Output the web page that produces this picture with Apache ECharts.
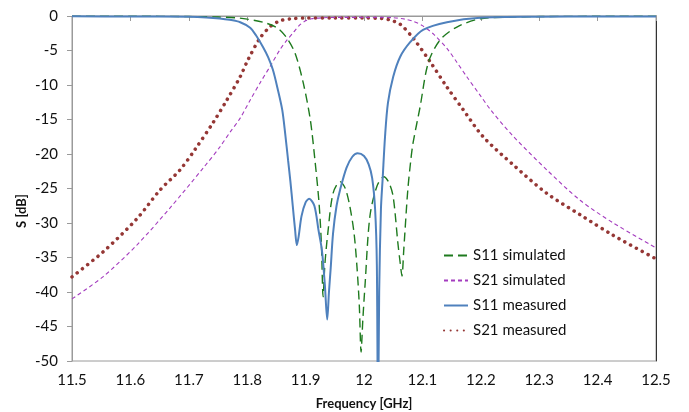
<!DOCTYPE html>
<html>
<head>
<meta charset="utf-8">
<script src="https://cdn.jsdelivr.net/npm/echarts@6/dist/echarts.min.js"></script>
<style>html,body{margin:0;padding:0;background:#fff}#c{width:689px;height:412px}</style>
</head>
<body>
<div id="c"></div>
<script>
var seriesNames = ['S11 simulated', 'S21 simulated', 'S11 measured', 'S21 measured'];
var xTitle = 'Frequency [GHz]';
var yTitle = 'S [dB]';

var s11SimFreq = [11.5, 11.6, 11.7, 11.75, 11.78, 11.8, 11.827, 11.851, 11.868, 11.882, 11.896, 11.908, 11.916, 11.923, 11.927, 11.930, 11.933, 11.938, 11.947, 11.959, 11.968, 11.976, 11.983, 11.988, 11.992, 11.995, 11.998, 12.002, 12.010, 12.022, 12.034, 12.043, 12.050, 12.058, 12.062, 12.065, 12.068, 12.070, 12.075, 12.080, 12.084, 12.096, 12.110, 12.130, 12.159, 12.199, 12.25, 12.3, 12.4, 12.5];
var s11SimVal = [-0.02, -0.03, -0.08, -0.15, -0.25, -0.45, -0.9, -1.7, -3.2, -5.4, -9.7, -15, -20.9, -27.1, -33, -40.7, -36, -31.5, -25.7, -24, -25, -27.7, -31.5, -36.4, -42, -48.7, -44, -38.7, -29.1, -24.7, -23.3, -24.2, -26.2, -32.9, -35.8, -37.7, -34, -31.4, -25.2, -21, -18.4, -13.2, -6.8, -3.5, -1.6, -0.4, -0.15, -0.08, -0.04, -0.02];

var s21SimFreq = [11.5, 11.553, 11.611, 11.668, 11.725, 11.753, 11.771, 11.788, 11.805, 11.822, 11.84, 11.856, 11.868, 11.879, 11.89, 11.9, 11.91, 11.93, 11.96, 12.0, 12.03, 12.05, 12.07, 12.085, 12.1, 12.12, 12.142, 12.159, 12.176, 12.199, 12.216, 12.253, 12.313, 12.370, 12.427, 12.5];
var s21SimVal = [-41, -37.8, -33.2, -27.8, -22, -19, -16.8, -14.8, -12.2, -9.7, -7.2, -4.9, -3.5, -2.4, -1.3, -0.7, -0.4, -0.25, -0.2, -0.2, -0.2, -0.25, -0.45, -0.8, -1.4, -2.7, -4.7, -6.7, -8.8, -11.5, -13.5, -17.2, -22.3, -26.7, -30, -33.6];

var s11MeasFreq = [11.5, 11.6, 11.7, 11.73, 11.753, 11.77, 11.788, 11.805, 11.815, 11.827, 11.836, 11.844, 11.852, 11.860, 11.865, 11.870, 11.874, 11.878, 11.882, 11.885, 11.888, 11.893, 11.900, 11.906, 11.915, 11.922, 11.928, 11.933, 11.937, 11.940, 11.943, 11.947, 11.953, 11.959, 11.970, 11.980, 11.989, 12.000, 12.008, 12.014, 12.019, 12.022, 12.024, 12.026, 12.029, 12.032, 12.036, 12.041, 12.050, 12.062, 12.079, 12.101, 12.142, 12.199, 12.3, 12.4, 12.5];
var s11MeasVal = [-0.05, -0.07, -0.12, -0.2, -0.35, -0.55, -0.9, -1.7, -2.8, -4.5, -6, -7.8, -10.5, -13.6, -17, -20.9, -24, -27.5, -31, -33.2, -32, -29, -27, -26.5, -27.5, -31, -34, -39, -44, -40, -36.5, -31.5, -27.5, -25.2, -22, -20.4, -19.9, -20.3, -21.5, -23.5, -28, -36, -60, -40, -28, -23.5, -17.5, -12.6, -8.8, -5.9, -3.8, -2, -0.9, -0.25, -0.1, -0.08, -0.07];

var s21MeasFreq = [11.5, 11.553, 11.611, 11.651, 11.685, 11.711, 11.742, 11.765, 11.788, 11.801, 11.822, 11.84, 11.856, 11.875, 11.9, 11.95, 12.0, 12.03, 12.045, 12.062, 12.084, 12.113, 12.142, 12.170, 12.204, 12.256, 12.313, 12.370, 12.427, 12.5];
var s21MeasVal = [-37.8, -34.2, -29.4, -25.2, -22.3, -19.3, -15.4, -12.2, -8.8, -6.4, -3.2, -1.5, -0.7, -0.4, -0.3, -0.3, -0.3, -0.35, -0.6, -1.2, -3.2, -6.6, -10.3, -13.6, -17.5, -21.6, -25.7, -28.8, -31.8, -35.2];

function pairs(f, v) { return f.map(function (x, i) { return [x, v[i]]; }); }

var FONT = 'Lato';
var chart = echarts.init(document.getElementById('c'), null, { renderer: 'canvas' });
chart.setOption({
  animation: false,
  backgroundColor: '#fff',
  grid: { left: 72, right: 33, top: 16, bottom: 51, show: true, borderColor: '#9a9a9a', borderWidth: 1, containLabel: false, outerBoundsMode: 'none' },
  legend: {
    orient: 'vertical', left: 438, top: 243, itemWidth: 24, itemHeight: 12, itemGap: 10,
    itemStyle: { opacity: 0 },
    textStyle: { fontFamily: FONT, fontSize: 15, color: '#111' },
    data: seriesNames
  },
  graphic: [{
    type: 'text', rotation: Math.PI / 2,
    x: 22, y: 211,
    style: { text: yTitle, font: 'bold 13px ' + FONT, fill: '#111', align: 'center', verticalAlign: 'middle' }
  }],
  xAxis: {
    type: 'value', min: 11.5, max: 12.5, interval: 0.1,
    name: xTitle, nameLocation: 'middle', nameGap: 36,
    nameTextStyle: { fontFamily: FONT, fontSize: 13, fontWeight: 'bold', color: '#111' },
    axisLine: { lineStyle: { color: '#9a9a9a' } },
    axisTick: { length: 5, lineStyle: { color: '#9a9a9a' } },
    axisLabel: { fontFamily: FONT, fontSize: 15, color: '#111', margin: 12, formatter: function (v) { return String(+v.toFixed(1)); } },
    splitLine: { show: false }
  },
  yAxis: [{
    type: 'value', min: -50, max: 0, interval: 5,
    axisLine: { show: true, lineStyle: { color: '#9a9a9a' } },
    axisTick: { show: true, length: 5, lineStyle: { color: '#9a9a9a' } },
    axisLabel: { fontFamily: FONT, fontSize: 15, color: '#111', margin: 14 },
    splitLine: { show: false }
  }, {
    type: 'value', min: -50, max: 0, interval: 5, position: 'right',
    axisLine: { show: true, lineStyle: { color: '#333', width: 1 } },
    axisTick: { show: false }, axisLabel: { show: false }, splitLine: { show: false }
  }],
  series: [
    { name: seriesNames[0], type: 'line', data: pairs(s11SimFreq, s11SimVal), showSymbol: false, symbol: 'none', smooth: 0.3, clip: true,
      itemStyle: { color: '#1e7a1e' }, lineStyle: { color: '#1e7a1e', width: 1.4, type: [9, 5] }, z: 3 },
    { name: seriesNames[1], type: 'line', data: pairs(s21SimFreq, s21SimVal), showSymbol: false, symbol: 'none', smooth: 0.3, clip: true,
      itemStyle: { color: '#a43cbf' }, lineStyle: { color: '#a43cbf', width: 1.1, type: [4, 3] }, z: 2 },
    { name: seriesNames[2], type: 'line', data: pairs(s11MeasFreq, s11MeasVal), showSymbol: false, symbol: 'none', smooth: 0.3, clip: true,
      itemStyle: { color: '#4f81bd' }, lineStyle: { color: '#4f81bd', width: 2 }, z: 4 },
    { name: seriesNames[3], type: 'line', data: pairs(s21MeasFreq, s21MeasVal), showSymbol: false, symbol: 'none', smooth: 0.3, clip: true,
      itemStyle: { color: '#953735' }, lineStyle: { color: '#953735', width: 3.5, type: [0.1, 6.5], cap: 'round' }, z: 1 }
  ]
});
</script>
</body>
</html>
